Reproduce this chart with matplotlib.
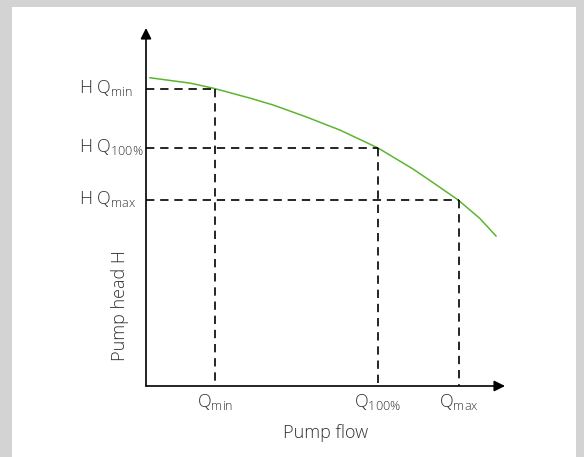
import matplotlib
matplotlib.use('Agg')
import matplotlib.pyplot as plt
from matplotlib.patches import Rectangle

plt.rcParams['font.family'] = ['Open Sans', 'DejaVu Sans']
plt.rcParams['font.weight'] = 'light'
plt.rcParams['mathtext.fontset'] = 'custom'
plt.rcParams['mathtext.rm'] = 'Open Sans:light'

# pump curve (flow, head), arbitrary units 0..10
flow = [0.11, 1.23, 1.87, 2.90, 3.54, 4.48, 5.40, 6.46, 7.44, 7.91, 8.69, 9.30, 9.75]
head = [8.61, 8.46, 8.32, 8.04, 7.85, 7.51, 7.15, 6.65, 6.06, 5.74, 5.20, 4.68, 4.19]

# operating points
q_points = [1.92, 6.46, 8.72]
h_points = [8.30, 6.65, 5.20]
q_labels = [r'Q$_{\mathrm{min}}$', r'Q$_{\mathrm{100\%}}$', r'Q$_{\mathrm{max}}$']
h_labels = [r'H Q$_{\mathrm{min}}$', r'H Q$_{\mathrm{100\%}}$', r'H Q$_{\mathrm{max}}$']

W, H = 584, 457
fig = plt.figure(figsize=(W / 100, H / 100), dpi=100)
fig.patch.set_facecolor('#d3d3d3')
fig.add_artist(Rectangle((12 / W, 0), (576 - 12) / W, (H - 7) / H,
                         transform=fig.transFigure, facecolor='white',
                         edgecolor='none', zorder=-5))

# axes box = from origin to arrow tips
x0, x1, y0, y1 = 146, 505, 386, 28
ax = fig.add_axes([x0 / W, (H - y0) / H, (x1 - x0) / W, (y0 - y1) / H])
ax.set_xlim(0, 10)
ax.set_ylim(0, 10)
ax.patch.set_alpha(0)
for s in ax.spines.values():
    s.set_visible(False)
ax.set_xticks([])
ax.set_yticks([])

txt = '#333333'

ax.plot(flow, head, color='#5cb531', lw=1.1, clip_on=False)

for q, h in zip(q_points, h_points):
    ax.plot([0, q], [h, h], color='black', lw=1.2, dashes=(5, 3.5), clip_on=False)
    ax.plot([q, q], [h, 0], color='black', lw=1.2, dashes=(5, 3.5), clip_on=False)

# axis arrows
arrow = dict(arrowstyle='-|>', color='black', lw=1.2, mutation_scale=16,
             shrinkA=0, shrinkB=0)
ax.annotate('', xy=(0, 1), xytext=(0, 0), xycoords='axes fraction', arrowprops=arrow)
ax.annotate('', xy=(1, 0), xytext=(0, 0), xycoords='axes fraction', arrowprops=arrow)

for q, lab in zip(q_points, q_labels):
    ax.text(q, -0.45, lab, ha='center', va='center', fontsize=13, color=txt)

for h, lab in zip(h_points, h_labels):
    ax.text(-1.87, h + 0.03, lab, ha='left', va='center', fontsize=13, color=txt)

ax.text(5.0, -1.3, 'Pump flow', ha='center', va='center', fontsize=13, color=txt)
ax.text(-0.72, 2.26, 'Pump head H', ha='center', va='center', rotation=90,
        fontsize=13, color=txt)

fig.savefig('out.png', dpi=100, facecolor=fig.get_facecolor())
